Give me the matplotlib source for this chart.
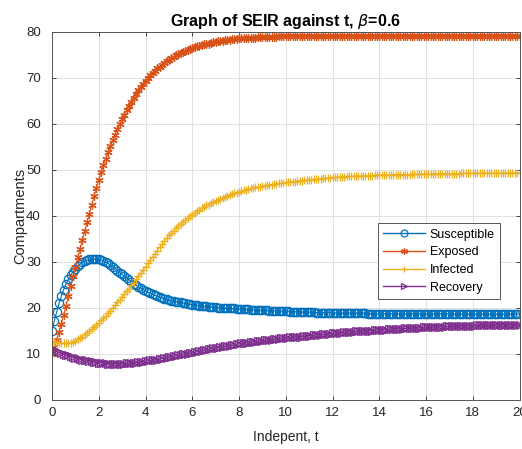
import numpy as np
import matplotlib
matplotlib.use("Agg")
import matplotlib.pyplot as plt

plt.rcParams["font.family"] = ["Liberation Sans", "DejaVu Sans"]

# time grid (step 0.1, 0..20)
t = np.linspace(0, 20, 201)

susceptible = [
    15.0, 17.2, 19.2, 21.0, 22.6, 24.0, 25.2, 26.2, 27.1, 27.9,
    28.5, 29.1, 29.5, 29.9, 30.2, 30.4, 30.6, 30.7, 30.7, 30.7,
    30.6, 30.5, 30.3, 30.0, 29.7, 29.3, 28.9, 28.5, 28.1, 27.7,
    27.3, 26.9, 26.5, 26.1, 25.7, 25.3, 24.9, 24.6, 24.3, 24.0,
    23.7, 23.4, 23.2, 23.0, 22.8, 22.6, 22.4, 22.2, 22.0, 21.9,
    21.7, 21.6, 21.5, 21.4, 21.3, 21.2, 21.1, 21.0, 20.9, 20.8,
    20.7, 20.6, 20.6, 20.5, 20.5, 20.4, 20.4, 20.3, 20.3, 20.2,
    20.2, 20.1, 20.1, 20.0, 20.0, 20.0, 19.9, 19.9, 19.9, 19.8,
    19.8, 19.8, 19.7, 19.7, 19.7, 19.6, 19.6, 19.6, 19.6, 19.5,
    19.5, 19.5, 19.5, 19.4, 19.4, 19.4, 19.4, 19.3, 19.3, 19.3,
    19.3, 19.3, 19.2, 19.2, 19.2, 19.2, 19.2, 19.1, 19.1, 19.1,
    19.1, 19.1, 19.1, 19.0, 19.0, 19.0, 19.0, 19.0, 19.0, 19.0,
    18.9, 18.9, 18.9, 18.9, 18.9, 18.9, 18.9, 18.9, 18.9, 18.9,
    18.9, 18.9, 18.9, 18.9, 18.9, 18.8, 18.8, 18.8, 18.8, 18.8,
    18.8, 18.8, 18.8, 18.8, 18.8, 18.8, 18.8, 18.8, 18.8, 18.8,
    18.8, 18.8, 18.8, 18.8, 18.8, 18.8, 18.8, 18.8, 18.8, 18.8,
    18.8, 18.8, 18.8, 18.8, 18.8, 18.8, 18.8, 18.8, 18.8, 18.8,
    18.7, 18.7, 18.7, 18.7, 18.7, 18.7, 18.7, 18.7, 18.7, 18.7,
    18.7, 18.7, 18.7, 18.7, 18.7, 18.7, 18.7, 18.7, 18.7, 18.7,
    18.7, 18.7, 18.7, 18.7, 18.7, 18.7, 18.7, 18.7, 18.7, 18.7,
    18.7,
]

exposed = [
    10.0, 11.5, 13.1, 14.8, 16.6, 18.5, 20.5, 22.6, 24.7, 26.9,
    29.0, 31.0, 32.9, 34.8, 36.7, 38.6, 40.5, 42.4, 44.3, 46.1,
    47.9, 49.5, 51.0, 52.5, 53.9, 55.2, 56.5, 57.7, 58.9, 60.0,
    61.0, 62.0, 63.0, 63.9, 64.8, 65.7, 66.5, 67.3, 68.0, 68.7,
    69.4, 70.0, 70.6, 71.1, 71.6, 72.1, 72.5, 72.9, 73.3, 73.7,
    74.0, 74.3, 74.6, 74.9, 75.2, 75.5, 75.7, 75.9, 76.1, 76.3,
    76.5, 76.7, 76.9, 77.0, 77.2, 77.3, 77.4, 77.5, 77.7, 77.8,
    77.9, 78.0, 78.0, 78.1, 78.2, 78.3, 78.3, 78.4, 78.5, 78.5,
    78.6, 78.6, 78.7, 78.7, 78.7, 78.8, 78.8, 78.8, 78.9, 78.9,
    78.9, 78.9, 79.0, 79.0, 79.0, 79.0, 79.0, 79.1, 79.1, 79.1,
    79.1, 79.1, 79.1, 79.1, 79.1, 79.1, 79.1, 79.1, 79.1, 79.1,
    79.1, 79.1, 79.1, 79.1, 79.1, 79.2, 79.2, 79.2, 79.2, 79.2,
    79.2, 79.2, 79.2, 79.2, 79.2, 79.2, 79.2, 79.2, 79.2, 79.2,
    79.2, 79.2, 79.2, 79.2, 79.2, 79.2, 79.2, 79.2, 79.2, 79.2,
    79.2, 79.2, 79.2, 79.2, 79.2, 79.2, 79.2, 79.2, 79.2, 79.2,
    79.2, 79.2, 79.2, 79.2, 79.2, 79.2, 79.2, 79.2, 79.2, 79.2,
    79.2, 79.2, 79.2, 79.2, 79.2, 79.2, 79.2, 79.2, 79.2, 79.2,
    79.2, 79.2, 79.2, 79.2, 79.2, 79.2, 79.2, 79.2, 79.2, 79.2,
    79.2, 79.2, 79.2, 79.2, 79.2, 79.2, 79.2, 79.2, 79.2, 79.2,
    79.2, 79.2, 79.2, 79.2, 79.2, 79.2, 79.2, 79.2, 79.2, 79.2,
    79.2,
]

infected = [
    12.8, 12.6, 12.5, 12.4, 12.3, 12.3, 12.3, 12.4, 12.5, 12.7,
    12.9, 13.2, 13.5, 13.8, 14.2, 14.6, 15.0, 15.4, 15.9, 16.3,
    16.8, 17.3, 17.8, 18.3, 18.9, 19.4, 20.0, 20.6, 21.2, 21.8,
    22.4, 23.0, 23.6, 24.2, 24.9, 25.5, 26.2, 26.9, 27.6, 28.3,
    29.0, 29.7, 30.4, 31.1, 31.8, 32.5, 33.2, 33.9, 34.5, 35.2,
    35.8, 36.3, 36.8, 37.3, 37.8, 38.3, 38.7, 39.1, 39.5, 39.9,
    40.3, 40.6, 41.0, 41.3, 41.7, 42.0, 42.3, 42.5, 42.8, 43.0,
    43.3, 43.5, 43.7, 44.0, 44.2, 44.4, 44.6, 44.8, 45.0, 45.1,
    45.3, 45.4, 45.6, 45.7, 45.9, 46.0, 46.1, 46.2, 46.3, 46.4,
    46.5, 46.6, 46.7, 46.8, 46.8, 46.9, 47.0, 47.1, 47.1, 47.2,
    47.3, 47.3, 47.4, 47.5, 47.5, 47.6, 47.7, 47.7, 47.8, 47.8,
    47.9, 47.9, 48.0, 48.0, 48.1, 48.1, 48.2, 48.2, 48.3, 48.3,
    48.4, 48.4, 48.4, 48.5, 48.5, 48.5, 48.6, 48.6, 48.6, 48.7,
    48.7, 48.7, 48.7, 48.8, 48.8, 48.8, 48.8, 48.8, 48.9, 48.9,
    48.9, 48.9, 48.9, 48.9, 48.9, 49.0, 49.0, 49.0, 49.0, 49.0,
    49.0, 49.0, 49.0, 49.0, 49.1, 49.1, 49.1, 49.1, 49.1, 49.1,
    49.1, 49.1, 49.1, 49.1, 49.2, 49.2, 49.2, 49.2, 49.2, 49.2,
    49.2, 49.2, 49.2, 49.2, 49.2, 49.3, 49.3, 49.3, 49.3, 49.3,
    49.3, 49.3, 49.3, 49.3, 49.3, 49.3, 49.3, 49.3, 49.3, 49.3,
    49.3, 49.3, 49.3, 49.3, 49.4, 49.4, 49.4, 49.4, 49.4, 49.4,
    49.4,
]

recovery = [
    11.0, 10.8, 10.6, 10.4, 10.2, 10.0, 9.8, 9.7, 9.5, 9.4,
    9.2, 9.1, 9.0, 8.8, 8.7, 8.6, 8.5, 8.4, 8.3, 8.2,
    8.1, 8.1, 8.0, 8.0, 7.9, 7.9, 7.9, 7.9, 7.9, 7.9,
    7.9, 7.9, 8.0, 8.0, 8.0, 8.1, 8.1, 8.2, 8.3, 8.3,
    8.4, 8.5, 8.6, 8.6, 8.7, 8.8, 8.9, 9.0, 9.1, 9.2,
    9.3, 9.4, 9.5, 9.6, 9.7, 9.8, 9.9, 10.0, 10.1, 10.2,
    10.3, 10.4, 10.5, 10.6, 10.7, 10.8, 10.9, 11.0, 11.1, 11.2,
    11.3, 11.4, 11.5, 11.6, 11.7, 11.8, 11.8, 11.9, 12.0, 12.1,
    12.2, 12.3, 12.3, 12.4, 12.5, 12.6, 12.6, 12.7, 12.8, 12.8,
    12.9, 13.0, 13.0, 13.1, 13.1, 13.2, 13.3, 13.3, 13.4, 13.4,
    13.5, 13.5, 13.6, 13.6, 13.7, 13.7, 13.8, 13.8, 13.9, 13.9,
    14.0, 14.0, 14.1, 14.1, 14.2, 14.2, 14.3, 14.3, 14.4, 14.4,
    14.5, 14.5, 14.5, 14.6, 14.6, 14.7, 14.7, 14.8, 14.8, 14.8,
    14.9, 14.9, 15.0, 15.0, 15.0, 15.1, 15.1, 15.1, 15.2, 15.2,
    15.2, 15.3, 15.3, 15.3, 15.4, 15.4, 15.4, 15.5, 15.5, 15.5,
    15.5, 15.6, 15.6, 15.6, 15.6, 15.7, 15.7, 15.7, 15.7, 15.8,
    15.8, 15.8, 15.8, 15.8, 15.9, 15.9, 15.9, 15.9, 15.9, 16.0,
    16.0, 16.0, 16.0, 16.0, 16.0, 16.1, 16.1, 16.1, 16.1, 16.1,
    16.1, 16.1, 16.2, 16.2, 16.2, 16.2, 16.2, 16.2, 16.2, 16.2,
    16.3, 16.3, 16.3, 16.3, 16.3, 16.3, 16.3, 16.3, 16.3, 16.3,
    16.4,
]

series = [
    ("Susceptible", susceptible, "#0072BD", "o"),
    ("Exposed", exposed, "#D95319", (6, 2, 0)),
    ("Infected", infected, "#EDB120", "+"),
    ("Recovery", recovery, "#7E2F8E", ">"),
]

fig = plt.figure(figsize=(5.22, 4.49), dpi=100)
ax = fig.add_axes([52 / 522, 49 / 449, 467.5 / 522, 368 / 449])

for name, values, color, marker in series:
    ax.plot(t, values, color=color, lw=0.8, marker=marker, markersize=6,
            markerfacecolor="none", markeredgewidth=0.9, label=name)

ax.set_xlim(0, 20)
ax.set_ylim(0, 80)
ax.set_xticks(np.arange(0, 21, 2))
ax.set_yticks(np.arange(0, 81, 10))
ax.grid(True, color="#dcdcdc", lw=0.6)
ax.set_axisbelow(True)
ax.tick_params(direction="in", length=3, width=0.6, top=True, right=True,
               labelsize=9.5, colors="#262626")
ax.tick_params(axis="y", pad=8)
ax.tick_params(axis="x", pad=5)
for sp in ax.spines.values():
    sp.set_color("#555555")
    sp.set_linewidth(0.7)

ax.set_title(r"Graph of SEIR against t, $\beta$=0.6", fontsize=11.5,
             fontweight="bold", pad=4)
ax.set_xlabel("Indepent, t", fontsize=10, color="#262626", labelpad=8)
ax.set_ylabel("Compartments", fontsize=10.5, color="#262626", labelpad=-1)

leg = ax.legend(loc="lower left", bbox_to_anchor=(0.697, 0.274), borderaxespad=0,
                fontsize=9, numpoints=1, handlelength=3.3, fancybox=False,
                framealpha=1, edgecolor="#555555", borderpad=0.45,
                labelspacing=0.45, handletextpad=0.4)
leg.get_frame().set_linewidth(0.7)
for h, (_, _, color, _) in zip(leg.legend_handles, series):
    h.set_color(color)
    h.set_markersize(5)
    h.set_linewidth(1.0)

fig.savefig("out.png", dpi=100)
